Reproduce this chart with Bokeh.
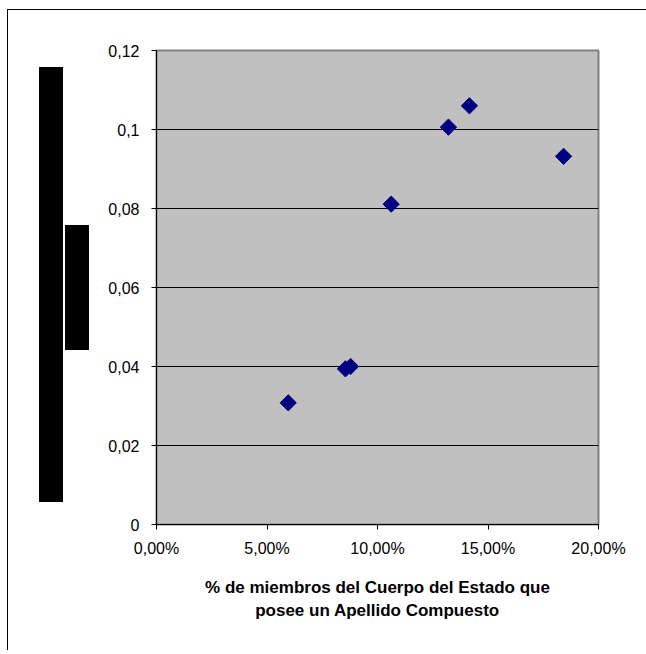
import math
from bokeh.plotting import figure
from bokeh.models import Range1d, FixedTicker, CustomJSTickFormatter, ColumnDataSource
from bokeh.embed import file_html
from bokeh.resources import INLINE

# data (x as fraction, y as value)
pct_compuesto = [0.0596, 0.0855, 0.0878, 0.1062, 0.1321, 0.1416, 0.1842]
indice = [0.0308, 0.0394, 0.0400, 0.0811, 0.1006, 0.1060, 0.0932]
x_ticks = [0.0, 0.05, 0.10, 0.15, 0.20]
y_ticks = [0.0, 0.02, 0.04, 0.06, 0.08, 0.10, 0.12]
x_label = "% de miembros del Cuerpo del Estado que\nposee un Apellido Compuesto"

src = ColumnDataSource(dict(x=pct_compuesto, y=indice))

# chart outer border (top/left) and redaction boxes drawn as CSS backgrounds
bg_layers = [
    ("7px 9px", "1px 645px"),      # left border line
    ("7px 9px", "639px 1px"),      # top border line
    ("39px 67px", "24px 435px"),   # redaction box 1
    ("65px 225px", "24px 125px"),  # redaction box 2
]
styles = {
    "background-color": "#FFFFFF",
    "background-image": ", ".join(["linear-gradient(#000000, #000000)"] * len(bg_layers)),
    "background-position": ", ".join(pos for pos, _ in bg_layers),
    "background-size": ", ".join(sz for _, sz in bg_layers),
    "background-repeat": "no-repeat",
}

p = figure(width=646, height=650, output_backend="svg", toolbar_location=None,
           x_range=Range1d(0, 0.2), y_range=Range1d(0, 0.12),
           min_border_left=156, min_border_top=50, min_border_right=48,
           min_border_bottom=126, styles=styles)

p.background_fill_color = "#C0C0C0"
p.border_fill_alpha = 0.0
p.outline_line_color = "#808080"
p.outline_line_width = 2

p.scatter("x", "y", source=src, marker="square", size=11.5, angle=math.pi / 4,
          fill_color="#000080", line_color="#000080")

p.xgrid.visible = False
p.ygrid.grid_line_color = "#000000"
p.ygrid.grid_line_width = 1
p.ygrid.ticker = FixedTicker(ticks=y_ticks)

for ax in (p.xaxis[0], p.yaxis[0]):
    ax.axis_line_color = "#000000"
    ax.major_tick_line_color = "#000000"
    ax.major_tick_out = 5
    ax.major_tick_in = 0
    ax.minor_tick_line_color = None
    ax.major_label_text_font = "Liberation Sans"
    ax.major_label_text_font_size = "16px"
    ax.major_label_text_color = "#000000"

p.yaxis.major_label_standoff = 12
p.xaxis.major_label_standoff = 10

p.xaxis.ticker = FixedTicker(ticks=x_ticks)
p.yaxis.ticker = FixedTicker(ticks=y_ticks)
p.xaxis.formatter = CustomJSTickFormatter(code="return (tick*100).toFixed(2).replace('.', ',') + '%';")
p.yaxis.formatter = CustomJSTickFormatter(code="""
let s = tick.toFixed(2);
s = s.replace(/0+$/, '').replace(/\\.$/, '');
return s.replace('.', ',');
""")

p.xaxis.axis_label = x_label
p.xaxis.axis_label_text_font = "Liberation Sans"
p.xaxis.axis_label_text_font_style = "bold"
p.xaxis.axis_label_text_font_size = "17px"
p.xaxis.axis_label_text_color = "#000000"
p.xaxis.axis_label_text_line_height = 1.25
p.xaxis.axis_label_standoff = 18

open("out.html", "w").write(file_html(p, INLINE))
